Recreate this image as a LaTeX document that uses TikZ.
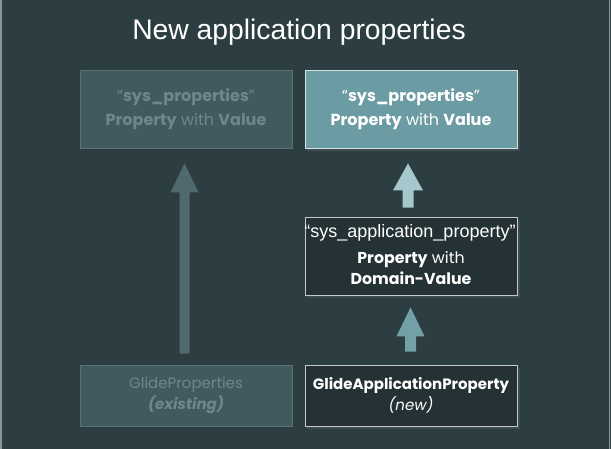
\documentclass[tikz,border=0pt]{standalone}
\usepackage{fontspec}
\setmainfont{Poppins}
\newfontfamily\arialf{Liberation Sans}
\usetikzlibrary{calc}
\definecolor{bgc}{HTML}{2D3E43}
\definecolor{fadefill}{HTML}{425A5E}
\definecolor{fadeborder}{HTML}{5A7276}
\definecolor{fadetext}{HTML}{6F878B}
\definecolor{lightfill}{HTML}{6C9CA3}
\definecolor{lightborder}{HTML}{D5E2E3}
\definecolor{darkfill}{HTML}{243236}
\definecolor{darkborder}{HTML}{C4C8C8}
\definecolor{arrowhi}{HTML}{A6C8CC}
\definecolor{arrowmid}{HTML}{72A0A6}
\definecolor{arrowfade}{HTML}{4F696D}
\definecolor{framec}{HTML}{8A9598}
% #1 colour, #2 start point, #3 end point, #4 gap at start, #5 gap at end, #6 shaft half width, #7 head half width, #8 head length
\newcommand{\blockup}[8]{%
  \fill[#1] let \p1=(#2), \p2=(#3) in
    (\x1-#6, \y1+#4) -- (\x1-#6, \y2-#5-#8) -- (\x1-#7, \y2-#5-#8) -- (\x1, \y2-#5)
    -- (\x1+#7, \y2-#5-#8) -- (\x1+#6, \y2-#5-#8) -- (\x1+#6, \y1+#4) -- cycle;}
\begin{document}
\begin{tikzpicture}[x=1pt,y=-1pt,
  box/.style={draw, line width=0.8pt, minimum width=212pt, align=center, inner sep=0pt},
  fadebox/.style={box, fill=fadefill, draw=fadeborder, text=fadetext},
  litebox/.style={box, fill=lightfill, draw=lightborder, text=white},
  darkbox/.style={box, fill=darkfill, draw=darkborder, text=white},
  topfont/.style={font=\fontsize{16}{24}\selectfont},
  lowfont/.style={font=\fontsize{15}{21}\selectfont},
]
\useasboundingbox (0,0) rectangle (611,449);
\fill[bgc] (0,0) rectangle (611,449);
\draw[framec, line width=1.2pt] (1,0) -- (1,449);
\draw[framec, line width=1.2pt] (609.5,0) -- (609.5,449);

\node[text=white, font=\arialf\fontsize{28.3}{32}\selectfont] (title) at (299,32) {New application properties};

% shadows
\fill[black!60, opacity=0.35] (307,73) rectangle (520,151);
\fill[black!60, opacity=0.35] (307,220) rectangle (520,298);
\fill[black!60, opacity=0.35] (307,368) rectangle (520,429);

\node[fadebox, topfont, minimum height=78pt] (sysA) at (186,109) {“\textbf{sys\_properties}”\\\textbf{Property} with \textbf{Value}};
\node[litebox, topfont, minimum height=78pt] (sysB) at (411,109) {“\textbf{sys\_properties}”\\\textbf{Property} with \textbf{Value}};
\node[darkbox, minimum height=78pt] (app) at (411,256) {};
\node[text=white, font=\arialf\fontsize{18}{20}\selectfont] (appname) at (410,233) {“sys\_application\_property”};
\node[text=white, align=center, font=\fontsize{15.8}{21}\selectfont] (appdesc) at (411,268) {\textbf{Property} with\\\textbf{Domain-Value}};
\node[darkbox, lowfont, minimum height=61pt] (gap) at (411,395.5) {\textbf{GlideApplicationProperty}\\\textit{(new)}};
\node[fadebox, lowfont, minimum height=61pt] (gp) at (186,395.5) {GlideProperties\\\textbf{\textit{(existing)}}};

% arrows
\blockup{arrowfade}{$(gp.north)+(-1.5,0)$}{sysA.south}{11}{15}{5}{14}{29}
\blockup{arrowhi}{$(app.north)+(-3,0)$}{sysB.south}{9}{15}{5.5}{15}{27}
\blockup{arrowmid}{$(gap.north)+(-0.5,0)$}{app.south}{13}{12}{5.5}{14}{29}
\end{tikzpicture}
\end{document}
